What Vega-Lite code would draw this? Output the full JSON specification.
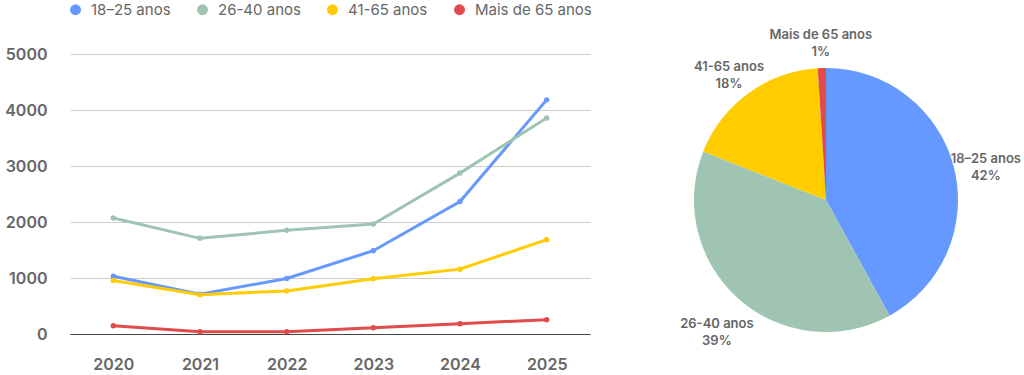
{
  "$schema": "https://vega.github.io/schema/vega-lite/v6.json",
  "padding": {"left": 0, "top": 2, "right": 0, "bottom": 0},
  "background": "white",
  "config": {"font": "Inter", "view": {"stroke": null}},
  "datasets": {
    "lines": [
      {"year": "2020", "group": "18–25 anos", "value": 1032},
      {"year": "2021", "group": "18–25 anos", "value": 710},
      {"year": "2022", "group": "18–25 anos", "value": 991},
      {"year": "2023", "group": "18–25 anos", "value": 1487},
      {"year": "2024", "group": "18–25 anos", "value": 2365},
      {"year": "2025", "group": "18–25 anos", "value": 4181},
      {"year": "2020", "group": "26-40 anos", "value": 2072},
      {"year": "2021", "group": "26-40 anos", "value": 1708},
      {"year": "2022", "group": "26-40 anos", "value": 1851},
      {"year": "2023", "group": "26-40 anos", "value": 1964},
      {"year": "2024", "group": "26-40 anos", "value": 2873},
      {"year": "2025", "group": "26-40 anos", "value": 3858},
      {"year": "2020", "group": "41-65 anos", "value": 955},
      {"year": "2021", "group": "41-65 anos", "value": 700},
      {"year": "2022", "group": "41-65 anos", "value": 770},
      {"year": "2023", "group": "41-65 anos", "value": 985},
      {"year": "2024", "group": "41-65 anos", "value": 1158},
      {"year": "2025", "group": "41-65 anos", "value": 1685},
      {"year": "2020", "group": "Mais de 65 anos", "value": 149},
      {"year": "2021", "group": "Mais de 65 anos", "value": 41},
      {"year": "2022", "group": "Mais de 65 anos", "value": 41},
      {"year": "2023", "group": "Mais de 65 anos", "value": 113},
      {"year": "2024", "group": "Mais de 65 anos", "value": 185},
      {"year": "2025", "group": "Mais de 65 anos", "value": 256}
    ],
    "pie": [
      {"group": "18–25 anos", "pct": 42, "ord": 1, "label": "18–25 anos\n42%"},
      {"group": "26-40 anos", "pct": 39, "ord": 2, "label": "26-40 anos\n39%"},
      {"group": "41-65 anos", "pct": 18, "ord": 3, "label": "41-65 anos\n18%"},
      {"group": "Mais de 65 anos", "pct": 1, "ord": 4, "label": "Mais de 65 anos\n1%"}
    ]
  },
  "hconcat": [
    {
      "width": 520,
      "height": 280,
      "data": {"name": "lines"},
      "encoding": {
        "x": {
          "field": "year", "type": "ordinal",
          "scale": {"type": "point", "padding": 0.5},
          "axis": {"title": null, "labelAngle": 0, "ticks": false, "domain": true, "domainColor": "#444", "domainWidth": 1.2, "grid": false, "labelPadding": 22, "labelFontSize": 16, "labelFontWeight": 600, "labelColor": "#666"}
        },
        "y": {
          "field": "value", "type": "quantitative",
          "scale": {"domain": [0, 5000], "nice": false},
          "axis": {"title": null, "format": "d", "values": [0, 1000, 2000, 3000, 4000, 5000], "ticks": false, "domain": false, "gridColor": "#cccccc", "gridWidth": 1, "labelPadding": 23, "minExtent": 70, "maxExtent": 70, "labelFontSize": 16, "labelFontWeight": 600, "labelColor": "#666"}
        },
        "color": {
          "field": "group", "type": "nominal",
          "scale": {"domain": ["18–25 anos", "26-40 anos", "41-65 anos", "Mais de 65 anos"], "range": ["#6699ff", "#a0c4b2", "#ffcc00", "#e04b4b"]},
          "legend": {"title": null, "orient": "none", "direction": "horizontal", "legendX": -2, "legendY": -52, "symbolType": "circle", "symbolSize": 120, "symbolStrokeWidth": 0, "labelFontSize": 15, "labelColor": "#666", "labelOffset": 8, "columnPadding": 24}
        }
      },
      "layer": [
        {"mark": {"type": "circle", "size": 30, "opacity": 1}},
        {"mark": {"type": "line", "strokeWidth": 3}}
      ]
    },
    {
      "width": 300,
      "height": 292,
      "data": {"name": "pie"},
      "encoding": {
        "theta": {"field": "pct", "type": "quantitative", "stack": true},
        "order": {"field": "ord", "type": "quantitative"},
        "color": {"field": "group", "type": "nominal", "legend": null}
      },
      "layer": [
        {"mark": {"type": "arc", "outerRadius": 132}},
        {
          "mark": {"type": "text", "radius": 165, "lineBreak": "\n", "fontSize": 13, "fontWeight": 600, "align": "center", "baseline": "middle", "lineHeight": 17},
          "encoding": {"text": {"field": "label"}, "color": {"value": "#666"}}
        }
      ]
    }
  ],
  "spacing": 86
}
